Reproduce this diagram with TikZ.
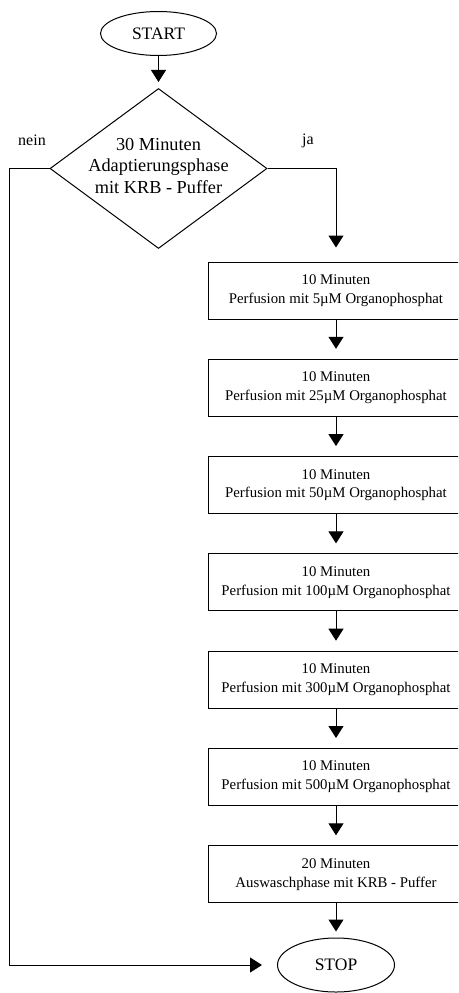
\documentclass[tikz,border=0pt]{standalone}
\usepackage{fontspec}
\setmainfont{Liberation Serif}
\usetikzlibrary{shapes.geometric,arrows.meta}
\newlength{\du}
\setlength{\du}{1pt}
\tikzset{
termnode/.style={draw=dialinecolor, ellipse, inner sep=0pt, font=\fontsize{17.5}{21}\selectfont},
stepbox/.style={draw=dialinecolor, rectangle, minimum width=256\du, minimum height=57\du, inner sep=0pt, align=center, font=\fontsize{14.8}{18.7}\selectfont},
flowarrow/.style={draw=dialinecolor, -{Triangle[width=15pt,length=12pt]}},
branchlabel/.style={inner sep=0pt, font=\fontsize{16}{19}\selectfont}
}
\begin{document}
\begin{tikzpicture}
\pgftransformxscale{1.000000}
\pgftransformyscale{-1.000000}
\definecolor{dialinecolor}{rgb}{0.000000, 0.000000, 0.000000}
\pgfsetstrokecolor{dialinecolor}
\pgfsetlinewidth{1.000000\du}
\pgfsetdash{}{0pt}
\clip (0.000000\du,0.000000\du) rectangle (458.000000\du,993.000000\du);
% start and decision
\node[termnode, minimum width=116\du, minimum height=44\du] (start) at (158.500000\du,33.500000\du){START};
\node[draw=dialinecolor, diamond, minimum width=217\du, minimum height=160\du, inner sep=0pt] (adapt) at (158.500000\du,168.500000\du){};
\node[inner sep=0pt, align=center, font=\fontsize{18.3}{21.7}\selectfont] (adapttext) at (158.500000\du,166.000000\du){30 Minuten\\Adaptierungsphase\\mit KRB - Puffer};
\node[branchlabel] (lblnein) at (32.000000\du,140.000000\du){nein};
\node[branchlabel] (lblja) at (308.000000\du,141.000000\du){ja};
% perfusion steps
\node[stepbox] (p1) at (336.000000\du,290.500000\du){10 Minuten\\Perfusion mit 5µM Organophosphat};
\node[stepbox] (p2) at (336.000000\du,387.800000\du){10 Minuten\\Perfusion mit 25µM Organophosphat};
\node[stepbox] (p3) at (336.000000\du,485.100000\du){10 Minuten\\Perfusion mit 50µM Organophosphat};
\node[stepbox] (p4) at (336.000000\du,582.400000\du){10 Minuten\\Perfusion mit 100µM Organophosphat};
\node[stepbox] (p5) at (336.000000\du,679.700000\du){10 Minuten\\Perfusion mit 300µM Organophosphat};
\node[stepbox] (p6) at (336.000000\du,777.000000\du){10 Minuten\\Perfusion mit 500µM Organophosphat};
\node[stepbox] (p7) at (336.000000\du,874.300000\du){20 Minuten\\Auswaschphase mit KRB - Puffer};
% stop
\node[termnode, minimum width=117\du, minimum height=54\du] (stop) at (336.000000\du,965.000000\du){STOP};
\coordinate (neincorner) at (9.000000\du,965.000000\du);
% connectors
\draw[flowarrow, shorten >=6\du] (start) -- (adapt);
\draw[flowarrow, shorten >=14\du] (adapt.east) -| (p1.north);
\draw[flowarrow, shorten >=10\du] (p1) -- (p2);
\draw[flowarrow, shorten >=10\du] (p2) -- (p3);
\draw[flowarrow, shorten >=10\du] (p3) -- (p4);
\draw[flowarrow, shorten >=10\du] (p4) -- (p5);
\draw[flowarrow, shorten >=10\du] (p5) -- (p6);
\draw[flowarrow, shorten >=10\du] (p6) -- (p7);
\draw[flowarrow, shorten >=6\du] (p7) -- (stop);
\draw[flowarrow, shorten >=15\du] (adapt.west) -| (neincorner) -- (stop.west);
\end{tikzpicture}
\end{document}
